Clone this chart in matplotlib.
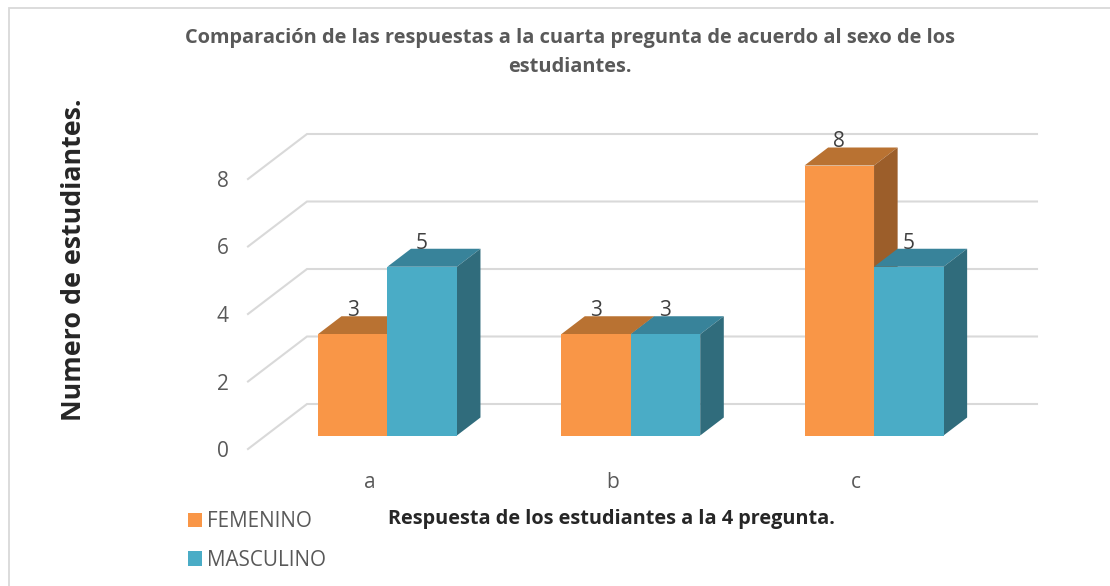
import matplotlib
matplotlib.use('Agg')
import matplotlib.pyplot as plt
from matplotlib.patches import Polygon
from matplotlib.lines import Line2D

plt.rcParams['font.family'] = ['Open Sans', 'DejaVu Sans']

categorias = ['a', 'b', 'c']
femenino = [3, 3, 8]
masculino = [5, 3, 5]
y_ticks = [0, 2, 4, 6, 8]
lineas = [0, 2, 4, 6, 8]

W, H = 1110, 586
fig = plt.figure(figsize=(W / 100, H / 100), dpi=100)

# plano frontal del grafico en pixeles
x0, x1, y0, y1 = 248, 978, 449, 179
ax = fig.add_axes([x0 / W, 1 - y0 / H, (x1 - x0) / W, (y0 - y1) / H])
ax.set_xlim(0, 3)
ax.set_ylim(0, 8)
ax.patch.set_visible(False)
for s in ax.spines.values():
    s.set_visible(False)

# profundidad 3D en unidades de datos
DX = 59 / 243.33
DY = 45 / 33.75
d0 = 0.30
d1 = 0.70
ancho = 69.5 / 243.33

for v in lineas:
    ax.plot([0, DX, 3 + DX], [v, v + DY, v + DY], color='#D9D9D9', lw=1.5,
            clip_on=False, zorder=1, solid_joinstyle='miter')


def barra(x, v, frente, arriba, lado, etiqueta, z):
    base = d0 * DY
    bx = x + d0 * DX
    b = ax.bar(bx, v, ancho, bottom=base, align='edge', color=frente, label=etiqueta,
               zorder=z + 0.2, clip_on=False)
    top = base + v
    dd = d1 - d0
    ax.add_patch(Polygon([(bx, top), (bx + ancho, top), (bx + ancho + dd * DX, top + dd * DY),
                          (bx + dd * DX, top + dd * DY)], closed=True, fc=arriba, ec='none',
                         zorder=z, clip_on=False))
    ax.add_patch(Polygon([(bx + ancho, base), (bx + ancho + dd * DX, base + dd * DY),
                          (bx + ancho + dd * DX, top + dd * DY), (bx + ancho, top)], closed=True,
                         fc=lado, ec='none', zorder=z, clip_on=False))
    ax.annotate(str(v), (bx + ancho / 2, top), xytext=(0, 17), textcoords='offset points',
                ha='center', va='center', fontsize=15, color='#404040', zorder=10,
                annotation_clip=False)
    return b


z = 2
for i, c in enumerate(categorias):
    centro = i + 0.5
    et1 = 'FEMENINO' if i == 0 else None
    et2 = 'MASCULINO' if i == 0 else None
    barra(centro - ancho, femenino[i], '#F99647', '#B97232', '#9C5E2A', et1, z)
    barra(centro, masculino[i], '#4AACC6', '#38839A', '#306C7C', et2, z + 1)
    z += 2

ax.set_xticks([0.5, 1.5, 2.5])
ax.set_xticklabels(categorias)
ax.set_yticks(y_ticks)
ax.tick_params(axis='both', length=0, labelsize=15, labelcolor='#595959')
ax.tick_params(axis='x', pad=16.5)
ax.tick_params(axis='y', pad=14)

fig.text(570 / W, 1 - 38 / H, 'Comparación de las respuestas a la cuarta pregunta de acuerdo al sexo de los',
         ha='center', va='center', fontsize=14.4, fontweight='bold', color='#595959')
fig.text(570 / W, 1 - 67 / H, 'estudiantes.', ha='center', va='center', fontsize=14.4,
         fontweight='bold', color='#595959')
fig.text(74 / W, 1 - 260 / H, 'Numero de estudiantes.', rotation=90, ha='center', va='center',
         fontsize=19.3, fontweight='bold', color='#262626')
fig.text(611 / W, 1 - 519 / H, 'Respuesta de los estudiantes a la 4 pregunta.', ha='center', va='center',
         fontsize=14.3, fontweight='bold', color='#262626')

h, l = ax.get_legend_handles_labels()
fig.legend(h, l, loc='upper left', bbox_to_anchor=(182 / W, 1 - 505 / H), frameon=False,
           fontsize=14.9, labelcolor='#595959', handlelength=0.68, handleheight=0.68,
           handletextpad=0.25, labelspacing=0.85, borderpad=0.3, borderaxespad=0)

# marco exterior: solo arriba y a la izquierda
fig.add_artist(Line2D([8.5 / W, 8.5 / W, 1], [0, 1 - 7.5 / H, 1 - 7.5 / H], transform=fig.transFigure,
                      color='#D9D9D9', lw=1.3, solid_joinstyle='miter'))

fig.savefig('out.png', dpi=100)
